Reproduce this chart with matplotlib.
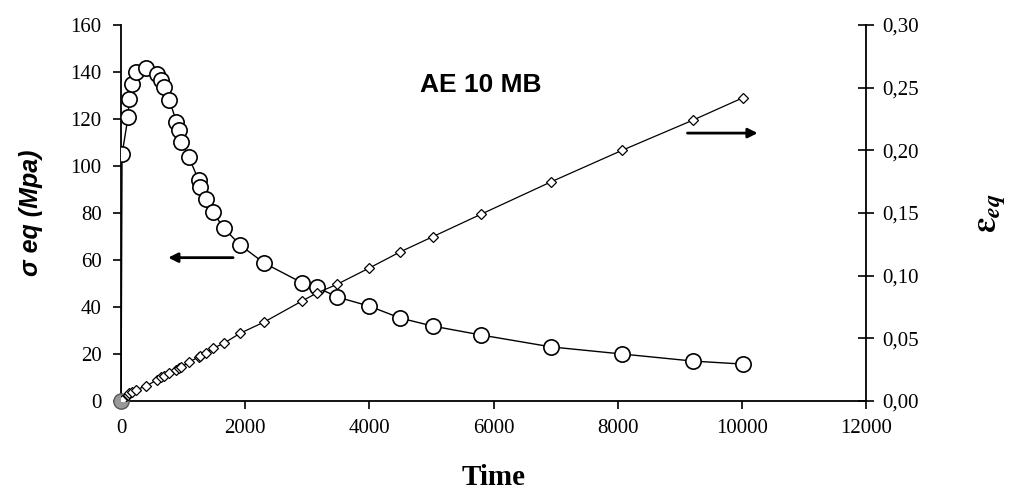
import matplotlib
matplotlib.use("Agg")
import matplotlib.pyplot as plt

# time points (s) shared by both series
time = [0, 16, 114, 130, 179, 244, 406, 585, 650, 698, 780, 893, 926, 974,
        1088, 1250, 1267, 1364, 1478, 1656, 1916, 2306, 2923, 3150, 3475,
        3995, 4498, 5018, 5798, 6934, 8071, 9208, 10020]
# equivalent stress (MPa)
sigma = [0, 105, 121, 128.5, 135, 140, 141.7, 139, 136.6, 133.6, 128, 118.7,
         115.3, 110, 104, 94, 91, 86, 80.4, 73.6, 66.4, 58.7, 50.2, 48.5,
         44.3, 40.4, 35.3, 31.9, 28.1, 23, 20, 17, 15.7]
# equivalent strain
eps = [0, 0.001, 0.005, 0.006, 0.007, 0.009, 0.012, 0.017, 0.019, 0.020,
       0.022, 0.025, 0.026, 0.027, 0.031, 0.035, 0.036, 0.038, 0.042, 0.046,
       0.054, 0.063, 0.080, 0.086, 0.093, 0.106, 0.119, 0.131, 0.149, 0.175,
       0.200, 0.224, 0.242]

plt.rcParams['mathtext.fontset'] = 'stix'

fig = plt.figure(figsize=(10.12, 4.95), dpi=100)
ax = fig.add_axes([0.1196, 0.1899, 0.7361, 0.7596])
ax2 = ax.twinx()

ax.plot(time[1:], sigma[1:], color='black', lw=1.0, marker='o', ms=11,
        mfc='white', mec='black', mew=1.2, zorder=3)
ax.plot([time[0], time[1]], [sigma[0], sigma[1]], color='black', lw=1.0)
ax.plot(time[0], sigma[0], marker='o', ms=11, mfc='#999999', mec='#555555',
        mew=1.0, zorder=4, clip_on=False)
ax2.plot(time, eps, color='black', lw=0.9, marker='D', ms=5,
         mfc='white', mec='black', mew=0.9)

ax.set_xlim(0, 12000)
ax.set_ylim(0, 160)
ax2.set_ylim(0, 0.30)
ax.set_xticks(range(0, 12001, 2000))
ax.set_yticks(range(0, 161, 20))
ax2.set_yticks([0, 0.05, 0.10, 0.15, 0.20, 0.25, 0.30])
ax2.set_yticklabels(['0,00', '0,05', '0,10', '0,15', '0,20', '0,25', '0,30'])

for a in (ax, ax2):
    a.spines['top'].set_visible(False)
    for s in a.spines.values():
        s.set_linewidth(1.3)
    a.tick_params(labelsize=15, width=1.2, length=6)
    for lab in a.get_xticklabels() + a.get_yticklabels():
        lab.set_fontfamily('Liberation Serif')
ax.spines['right'].set_visible(False)
ax2.spines['left'].set_visible(False)
ax2.spines['bottom'].set_visible(False)
ax2.tick_params(direction='inout', length=11, pad=6)
ax.tick_params(axis='y', pad=8)
ax.tick_params(axis='x', pad=7)

ax.set_xlabel('Time', fontsize=21, fontweight='bold',
              fontfamily='Liberation Serif', labelpad=19)
ax.set_ylabel('σ eq (Mpa)', fontsize=18, fontweight='bold', fontstyle='italic',
              fontfamily='Liberation Sans', labelpad=20)
ax2.set_ylabel(r'$\boldsymbol{\varepsilon}_{\boldsymbol{eq}}$', fontsize=25,
               rotation=90, labelpad=40)

ax.text(5800, 134.5, 'AE 10 MB', fontsize=19, fontweight='bold',
        fontfamily='Liberation Sans', ha='center', va='center')

ax.annotate('', xy=(715, 61), xytext=(1850, 61),
            arrowprops=dict(arrowstyle='-|>', color='black', lw=2,
                            mutation_scale=14))
ax.annotate('', xy=(10300, 114), xytext=(9080, 114),
            arrowprops=dict(arrowstyle='-|>', color='black', lw=2,
                            mutation_scale=14))

fig.savefig('out.png', dpi=100)
